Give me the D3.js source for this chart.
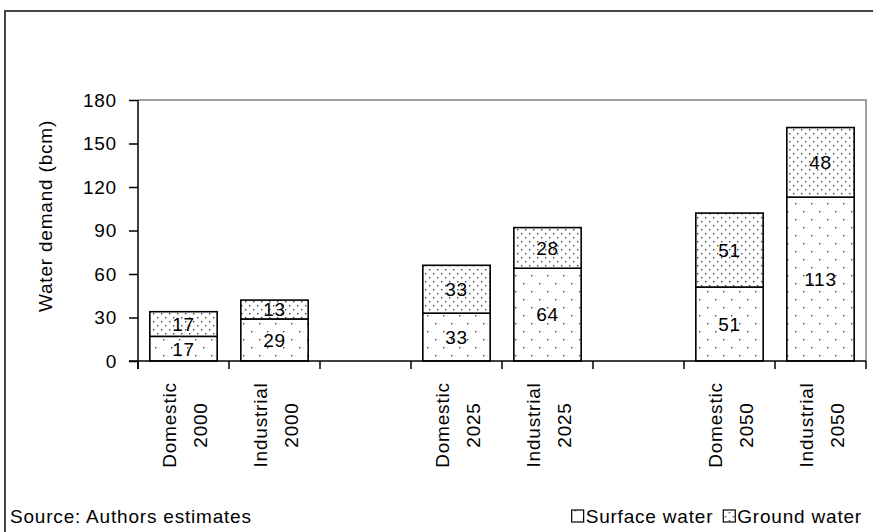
<!DOCTYPE html>
<html>
<head>
<meta charset="utf-8">
<script src="https://cdn.jsdelivr.net/npm/d3@7"></script>
<style>
  html, body { margin: 0; padding: 0; background: #fff; }
  svg { display: block; font-family: "Liberation Sans", Arial, sans-serif; }
  svg text { letter-spacing: 0.8px; }
</style>
</head>
<body>
<svg id="chart" width="873" height="532"></svg>
<script>
// ---- data ----
const categories = [
  ["Domestic", "2000"], ["Industrial", "2000"], null,
  ["Domestic", "2025"], ["Industrial", "2025"], null,
  ["Domestic", "2050"], ["Industrial", "2050"]
];
const surfaceWater = [17, 29, null, 33, 64, null, 51, 113];
const groundWater  = [17, 13, null, 33, 28, null, 51, 48];
const yTicks = [0, 30, 60, 90, 120, 150, 180];
const seriesNames = ["Surface water", "Ground water"];
const yTitle = "Water demand (bcm)";
const sourceNote = "Source: Authors estimates";

// ---- layout ----
const W = 873, H = 532;
const plot = { left: 138, right: 866, top: 100, bottom: 361 };
const FS = 19;

const svg = d3.select("#chart");

// patterns
const defs = svg.append("defs");
function dotPattern(id, size, dots) {
  const p = defs.append("pattern").attr("id", id)
    .attr("patternUnits", "userSpaceOnUse")
    .attr("width", size).attr("height", size);
  p.append("rect").attr("width", size).attr("height", size).attr("fill", "#fff");
  dots.forEach(([dx, dy]) => p.append("rect")
    .attr("x", dx).attr("y", dy).attr("width", 1.4).attr("height", 1.4).attr("fill", "#444"));
}
dotPattern("surfacePat", 16, [[3, 3], [11, 11]]);
dotPattern("groundPat", 8, [[1, 1], [5, 5]]);
const fills = ["url(#surfacePat)", "url(#groundPat)"];

// outer frame
svg.append("path")
  .attr("d", `M5,${H + 5} L5,11 L${W + 5},11`)
  .attr("fill", "none").attr("stroke", "#444").attr("stroke-width", 2);

// scales
const x = d3.scaleBand()
  .domain(d3.range(categories.length))
  .range([plot.left, plot.right])
  .paddingInner(0.26).paddingOuter(0.13);
const y = d3.scaleLinear().domain([0, 180]).range([plot.bottom, plot.top]);

// plot area border (grey top/right)
svg.append("path")
  .attr("d", `M${plot.left},${plot.top} L${plot.right},${plot.top} L${plot.right},${plot.bottom}`)
  .attr("fill", "none").attr("stroke", "#a0a0a0").attr("stroke-width", 2);

// stacked data
const rows = categories.map((c, i) => ({ i, surface: surfaceWater[i], ground: groundWater[i] }))
  .filter(d => d.surface != null);
const stack = d3.stack().keys(["surface", "ground"])(rows);

const g = svg.append("g");
stack.forEach((layer, li) => {
  g.selectAll(null).data(layer).enter().append("rect")
    .attr("x", d => x(d.data.i))
    .attr("width", x.bandwidth())
    .attr("y", d => y(d[1]))
    .attr("height", d => y(d[0]) - y(d[1]))
    .attr("fill", fills[li])
    .attr("stroke", "#000").attr("stroke-width", 1.6);
});
stack.forEach((layer) => {
  g.selectAll(null).data(layer).enter().append("text")
    .attr("x", d => x(d.data.i) + x.bandwidth() / 2)
    .attr("y", d => (y(d[0]) + y(d[1])) / 2)
    .attr("dy", "0.36em")
    .attr("text-anchor", "middle")
    .attr("font-size", FS).attr("fill", "#000")
    .text(d => d[1] - d[0]);
});

// y axis
const yAxis = d3.axisLeft(y).tickValues(yTicks).tickSize(9).tickPadding(12);
const ya = svg.append("g").attr("transform", `translate(${plot.left},0)`).call(yAxis);
ya.select(".domain").remove();
ya.selectAll(".tick line").attr("stroke", "#000").attr("stroke-width", 1.5);
ya.selectAll(".tick text").attr("font-size", FS).attr("font-family", "Liberation Sans, Arial, sans-serif").attr("fill", "#000");
svg.append("line")
  .attr("x1", plot.left).attr("x2", plot.left)
  .attr("y1", plot.top).attr("y2", plot.bottom + 8)
  .attr("stroke", "#000").attr("stroke-width", 1.5);

// x axis
svg.append("line")
  .attr("x1", plot.left - 9).attr("x2", plot.right)
  .attr("y1", plot.bottom).attr("y2", plot.bottom)
  .attr("stroke", "#000").attr("stroke-width", 1.5);
const boundaries = d3.range(categories.length + 1).map(k => plot.left + k * x.step());
svg.selectAll(null).data(boundaries).enter().append("line")
  .attr("x1", d => d).attr("x2", d => d)
  .attr("y1", plot.bottom).attr("y2", plot.bottom + 8)
  .attr("stroke", "#000").attr("stroke-width", 1.5);

// category labels (rotated, two lines)
categories.forEach((c, i) => {
  if (!c) return;
  const cx = x(i) + x.bandwidth() / 2;
  const t = svg.append("text")
    .attr("transform", `translate(${cx},425) rotate(-90)`)
    .attr("text-anchor", "middle").attr("font-size", FS).attr("fill", "#000");
  t.append("tspan").attr("x", 0).attr("y", -8).text(c[0]);
  t.append("tspan").attr("x", 0).attr("y", 23).text(c[1]);
});

// y title
svg.append("text")
  .attr("transform", `translate(52,216) rotate(-90)`)
  .attr("text-anchor", "middle").attr("font-size", FS).attr("fill", "#000")
  .text(yTitle);

// source note
svg.append("text").attr("x", 10).attr("y", 523)
  .attr("font-size", FS).attr("fill", "#000").text(sourceNote);

// legend (right-aligned)
const legend = svg.append("g");
let lx = 0;
seriesNames.forEach((name, k) => {
  legend.append("rect").attr("x", lx).attr("y", -13).attr("width", 12).attr("height", 12)
    .attr("fill", fills[k]).attr("stroke", "#000").attr("stroke-width", 1.2);
  const tt = legend.append("text").attr("x", lx + 14).attr("y", 0)
    .attr("font-size", FS).attr("fill", "#000").text(name);
  lx += 14 + tt.node().getComputedTextLength() + (k < seriesNames.length - 1 ? 10 : 0);
});
legend.attr("transform", `translate(${862 - lx},523)`);
</script>
</body>
</html>
